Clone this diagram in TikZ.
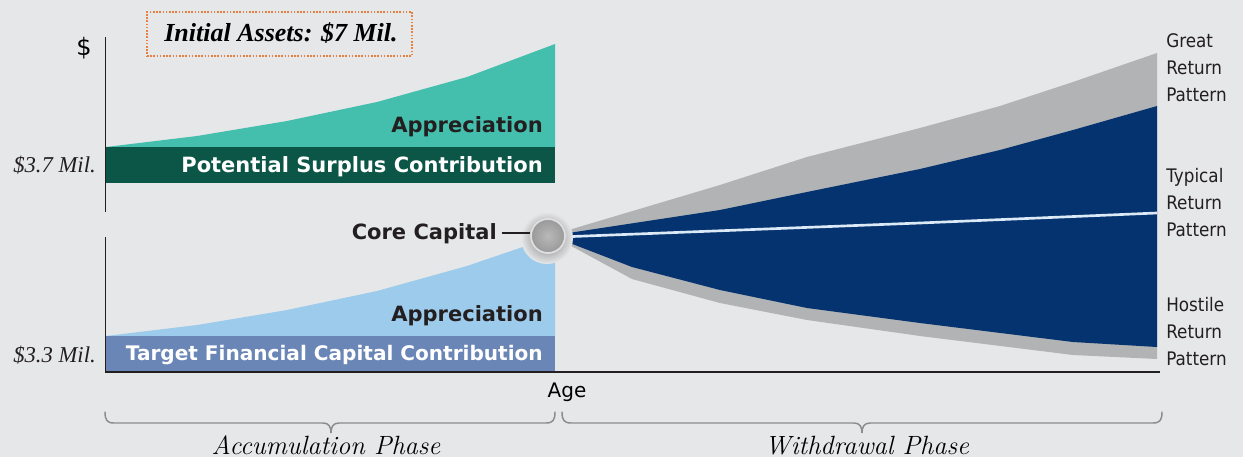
\documentclass[tikz,border=0pt]{standalone}
\usepackage{fontspec}
\newfontfamily\dv{DejaVu Sans}
\newfontfamily\dvn[FakeStretch=0.9]{DejaVu Sans}
\newfontfamily\lserif{Liberation Serif}
\definecolor{bgc}{HTML}{E6E7E9}
\definecolor{teal}{HTML}{45BFAD}
\definecolor{dgreen}{HTML}{0B5646}
\definecolor{lblue}{HTML}{9DCBEC}
\definecolor{slate}{HTML}{6A86B6}
\definecolor{navy}{HTML}{04336F}
\definecolor{fangray}{HTML}{B1B3B4}
\definecolor{txt}{HTML}{231F20}
\definecolor{bracegray}{HTML}{8A8C8E}
\definecolor{orng}{HTML}{E8803F}
\definecolor{wline}{HTML}{DCE9F6}
\tikzset{
  boldlab/.style={font=\dv\bfseries\fontsize{15.75}{18}\selectfont, text=txt, inner sep=0pt},
  whitelab/.style={boldlab, text=white},
  sidelab/.style={font=\dvn\fontsize{14}{20.25}\selectfont, text=txt, inner sep=0pt, align=left, anchor=west},
  milab/.style={font=\lserif\itshape\fontsize{17}{18}\selectfont, text=txt, inner sep=0pt, anchor=base east},
  phaselab/.style={font=\itshape\fontsize{19.8}{22}\selectfont, text=black, inner sep=0pt, anchor=base},
  axisline/.style={draw=txt, line width=1.1pt},
  bracestyle/.style={draw=bracegray, line width=1.1pt, line cap=round},
}
\begin{document}
\begin{tikzpicture}[x=0.75pt,y=-0.75pt]
\fill[bgc] (0,0) rectangle (1243,457);
\useasboundingbox (0,0) rectangle (1243,457);
% upper panel
\fill[teal] (106,147) -- (197,136) -- (287,121) -- (377,102) -- (467,77) -- (555,44) -- (555,147) -- cycle;
\fill[dgreen] (106,147) rectangle (555,183);
% lower panel
\fill[lblue] (106,336) -- (197,325) -- (287,310) -- (377,291) -- (467,266) -- (555,236) -- (555,336) -- cycle;
\fill[slate] (106,336) rectangle (555,372);
% fans
\fill[fangray] (562,232) -- (720,185) -- (807,157) -- (920,128) -- (1000,106) -- (1073,82) -- (1157,53)
  -- (1157,359) -- (1073,355) -- (920,336) -- (807,320) -- (720,303) -- (632,279) -- (562,241) -- cycle;
\fill[navy] (562,234) -- (720,210) -- (807,192) -- (920,169) -- (1000,150) -- (1073,130) -- (1157,106)
  -- (1157,347) -- (1073,342) -- (920,323) -- (807,308) -- (720,290) -- (632,267) -- (562,240) -- cycle;
\draw[wline, line width=2pt] (560,237) -- (920,223) -- (1157,213);
% axes
\draw[axisline] (105.5,37) -- (105.5,212);
\draw[axisline] (105.5,237) -- (105.5,372) -- (1160,372);
% core capital circle
\shade[inner color=black!55, outer color=bgc] (547,238) circle (26);
\node[circle, minimum size=25.5pt, inner sep=0pt, draw=white!75!gray, line width=1.3pt,
      inner color=gray!55, outer color=gray!80, shading=radial] (circ) at (548,236) {};
\node[boldlab, anchor=base east] (cc) at (497,239) {Core Capital};
\draw[txt, line width=1.5pt] ([xshift=3.5pt]cc.east) -- (cc.east -| circ.west);
% texts
\node[font=\dv\fontsize{18}{20}\selectfont, text=black, inner sep=0pt] (dollar) at (84,48) {\$};
\node[draw=orng, dash pattern=on 1.2pt off 1.2pt, line width=0.8pt, minimum width=198.75pt, minimum height=33pt,
      inner sep=0pt] (initbox) at (279.5,34) {};
\node[font=\lserif\bfseries\itshape\fontsize{19.5}{22}\selectfont, text=black, inner sep=0pt, anchor=base] (init) at (281,41) {Initial Assets: \$7 Mil.};
\node[boldlab, anchor=base east] (app1) at (543,132) {Appreciation};
\node[whitelab, anchor=base east] (psc) at (543,172) {Potential Surplus Contribution};
\node[boldlab, anchor=base east] (app2) at (543,321) {Appreciation};
\node[whitelab, anchor=base east, font=\dv\bfseries\fontsize{15.05}{18}\selectfont] (tfc) at (543,360) {Target Financial Capital Contribution};
\node[milab] (m37) at (96,172) {\$3.7 Mil.};
\node[milab] (m33) at (96,362) {\$3.3 Mil.};
\node[font=\dv\fontsize{15}{18}\selectfont, text=black, inner sep=0pt, anchor=base] (age) at (567,397) {Age};
\node[sidelab] (great) at (1166,68) {Great\\Return\\Pattern};
\node[sidelab] (typ) at (1166,203) {Typical\\Return\\Pattern};
\node[sidelab] (host) at (1166,332) {Hostile\\Return\\Pattern};
% braces
\draw[bracestyle] (105,412) .. controls (105,420) and (107,423) .. (114,423) -- (323,423)
  .. controls (329,423) and (331,427) .. (331,433) .. controls (331,427) and (333,423) .. (339,423)
  -- (546,423) .. controls (553,423) and (555,420) .. (555,412);
\draw[bracestyle] (562,412) .. controls (562,420) and (564,423) .. (571,423) -- (854,423)
  .. controls (860,423) and (862,427) .. (862,433) .. controls (862,427) and (864,423) .. (870,423)
  -- (1153,423) .. controls (1160,423) and (1162,420) .. (1162,412);
\node[phaselab] (acc) at (326,454) {Accumulation Phase};
\node[phaselab] (wd) at (867,454) {Withdrawal Phase};
\end{tikzpicture}
\end{document}
